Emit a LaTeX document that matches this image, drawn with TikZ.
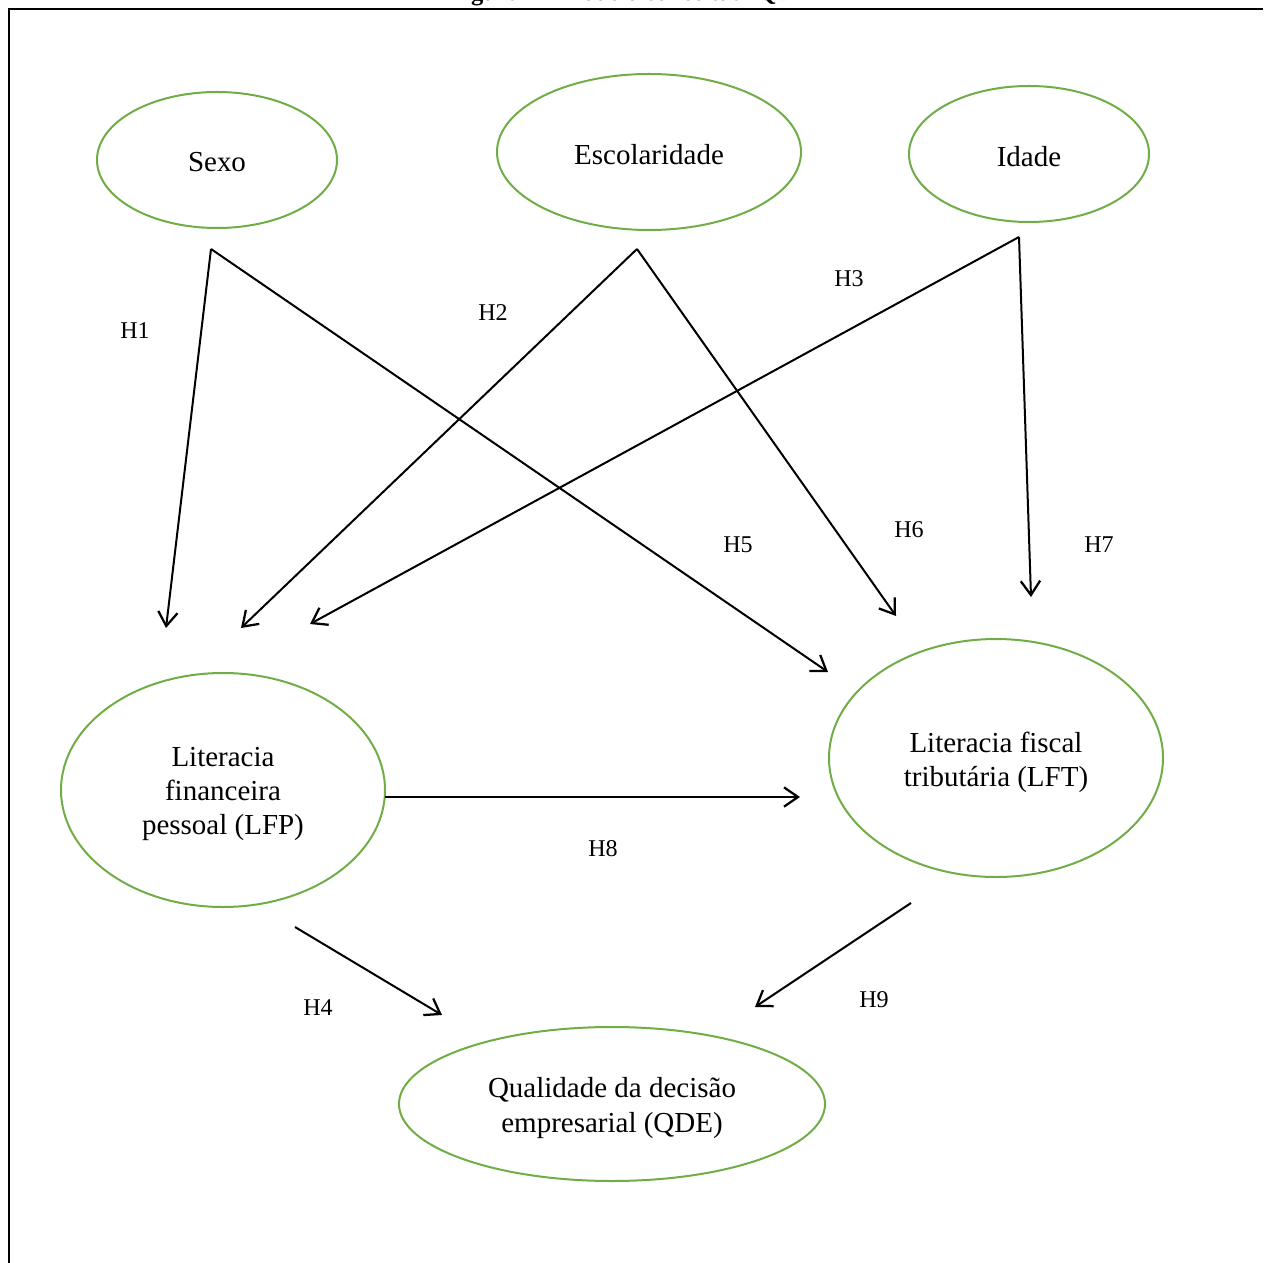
\documentclass[tikz,border=0pt]{standalone}
\usepackage{fontspec}
\setmainfont{Liberation Serif}
\usetikzlibrary{arrows.meta}
\definecolor{leafgreen}{RGB}{112,173,71}
\begin{document}
\begin{tikzpicture}[x=0.02cm,y=-0.02cm,
  oval/.style={draw=leafgreen,line width=0.04cm},
  label/.style={font=\fontsize{16.5}{19.4}\selectfont,align=center},
  path/.style={draw,line width=0.04cm,-{Straight Barb[length=8pt,width=11pt,line width=0.045cm]}},
  hyp/.style={font=\fontsize{13.7}{16}\selectfont}]
\useasboundingbox (0,0) rectangle (1263,1263);
% frame and caption
\node[anchor=base,font=\bfseries\fontsize{14}{16}\selectfont] (caption) at (630,0.5) {Figura 2 - Modelo conceitual QDE};
\draw[line width=0.04cm] (9,1263) -- (9,9) -- (1263,9);
% constructs
\draw[oval] (217,160) ellipse [x radius=120,y radius=68];
\node[label] (sexo) at (217,162) {Sexo};
\draw[oval] (649,152) ellipse [x radius=152,y radius=78];
\node[label] (esc) at (649,155) {Escolaridade};
\draw[oval] (1029,154) ellipse [x radius=120,y radius=68];
\node[label] (idade) at (1029,157) {Idade};
\draw[oval] (223,790) ellipse [x radius=162,y radius=117];
\node[label] (lfp) at (223,794) {Literacia\\financeira\\pessoal (LFP)};
\draw[oval] (996,758) ellipse [x radius=167,y radius=119];
\node[label] (lft) at (996,762) {Literacia fiscal\\tributária (LFT)};
\draw[oval] (612,1104) ellipse [x radius=213,y radius=77];
\node[label] (qde) at (612,1108) {Qualidade da decisão\\empresarial (QDE)};
% connector ends
\coordinate (sexoOut) at (211,249);
\coordinate (escOut) at (637,249);
\coordinate (idadeOut) at (1019,237);
\coordinate (lfpInA) at (166,628);
\coordinate (lfpInB) at (241,628);
\coordinate (lfpInC) at (310,624);
\coordinate (lftInA) at (828,672);
\coordinate (lftInB) at (896,616);
\coordinate (lftInC) at (1031,597);
\coordinate (lfpRight) at (385,797);
\coordinate (lftLeft) at (800,797);
\coordinate (lfpLow) at (295,927);
\coordinate (qdeInA) at (442,1015);
\coordinate (lftLow) at (911,903);
\coordinate (qdeInB) at (755,1007);
% hypotheses paths
\draw[path] (sexoOut) -- (lfpInA);
\draw[path] (sexoOut) -- (lftInA);
\draw[path] (escOut) -- (lfpInB);
\draw[path] (escOut) -- (lftInB);
\draw[path] (idadeOut) -- (lfpInC);
\draw[path] (idadeOut) -- (lftInC);
\draw[path] (lfpRight) -- (lftLeft);
\draw[path] (lfpLow) -- (qdeInA);
\draw[path] (lftLow) -- (qdeInB);
% labels
\node[hyp] (h1) at (135,331) {H1};
\node[hyp] (h2) at (493,313) {H2};
\node[hyp] (h3) at (849,279) {H3};
\node[hyp] (h5) at (738,545) {H5};
\node[hyp] (h6) at (909,530) {H6};
\node[hyp] (h7) at (1099,545) {H7};
\node[hyp] (h8) at (603,849) {H8};
\node[hyp] (h4) at (318,1008) {H4};
\node[hyp] (h9) at (874,1000) {H9};
\end{tikzpicture}
\end{document}
